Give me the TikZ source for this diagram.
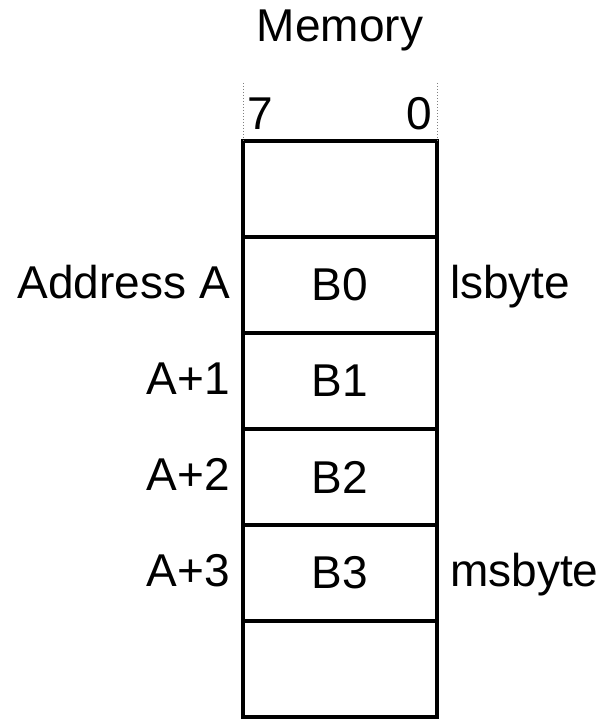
\documentclass[tikz,border=0pt]{standalone}
\usepackage{fontspec}
\setmainfont{Liberation Sans}
\begin{document}
\begin{tikzpicture}[x=1pt,y=1pt,
  cell/.style={draw=black,line width=3.8pt,minimum width=194pt,minimum height=96pt,inner sep=0pt,outer sep=0pt,font=\fontsize{46}{50}\selectfont},
  lbl/.style={inner sep=0pt,font=\fontsize{46}{50}\selectfont},
  guide/.style={draw=gray,line width=1pt,dotted}]
\useasboundingbox (0,0) rectangle (605,719);
\node[cell] (c0) at (340,530) {};
\node[cell] (c1) at (340,434) {B0};
\node[cell] (c2) at (340,338) {B1};
\node[cell] (c3) at (340,242) {B2};
\node[cell] (c4) at (340,146) {B3};
\node[cell] (c5) at (340,50) {};
\node[lbl,anchor=base east] (a0) at (230,420) {Address A};
\node[lbl,anchor=base east] (a1) at (230,324) {A+1};
\node[lbl,anchor=base east] (a2) at (230,228) {A+2};
\node[lbl,anchor=base east] (a3) at (230,132) {A+3};
\node[lbl,anchor=base west] (ls) at (450,420) {lsbyte};
\node[lbl,anchor=base west] (ms) at (450,132) {msbyte};
\node[lbl,anchor=base] (mem) at (340,677) {Memory};
\node[lbl,anchor=base west] (b7) at (247,589) {7};
\node[lbl,anchor=base east] (b0) at (432,589) {0};
\coordinate (g7t) at (243,636);
\coordinate (g0t) at (437,636);
\draw[guide] (g7t) -- (c0.north west);
\draw[guide] (g0t) -- (c0.north east);
\end{tikzpicture}
\end{document}
